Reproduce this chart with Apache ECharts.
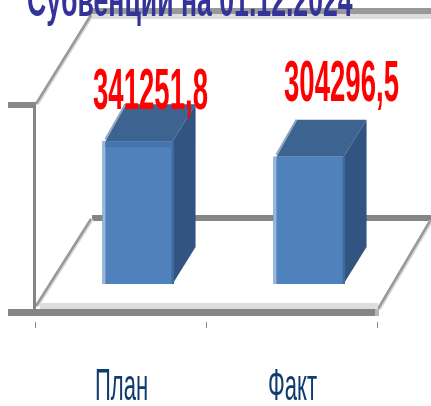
<!DOCTYPE html>
<html><head><meta charset="utf-8">
<style>html,body{margin:0;padding:0;background:#fff;overflow:hidden}#c{width:431px;height:406px}</style>
<script src="https://cdn.jsdelivr.net/npm/echarts@6/dist/echarts.min.js"></script>
</head><body><div id="c"></div>
<script>
const titleText = 'Субвенции на 01.12.2024';
const categories = ['План', 'Факт'];
const values = [341251.8, 304296.5];
const valueLabels = ['341251,8', '304296,5'];

const labelShift = [[13, -50], [33, -73]];
const FONT = '"Liberation Sans", Arial, sans-serif';
const DX = 23, DY = 37;

const chart = echarts.init(document.getElementById('c'), null, {renderer: 'canvas'});

function line(x1, y1, x2, y2, stroke, w) {
  return {type: 'line', shape: {x1, y1, x2, y2}, style: {stroke, lineWidth: w}, silent: true};
}
function band(x, y, width, height, fill) {
  return {type: 'rect', shape: {x, y, width, height}, style: {fill}, silent: true};
}
function poly(points, fill) {
  return {type: 'polygon', shape: {points}, style: {fill}, silent: true};
}

function renderWalls() {
  return {type: 'group', children: [
    band(90, 8, 341, 6, '#999999'),
    band(90, 14, 341, 5, '#dddddd'),
    band(92, 215, 339, 6, '#858585'),
    line(37, 104, 92, 15, '#d8d8d8', 4),
    line(36, 104, 91, 15, '#999999', 2.5),
    line(37, 306, 92, 219, '#d8d8d8', 4),
    line(36, 306, 91, 219, '#999999', 2.5),
    line(379, 309, 431, 221, '#d8d8d8', 4),
    line(378, 309, 430, 221, '#999999', 2.5),
    band(8, 102, 28, 6, '#888888'),
    band(33, 105, 3, 205, '#858585'),
    band(40, 303, 338, 6, '#dddddd'),
    band(8, 309, 368, 7, '#858585'),
    band(375, 309, 4, 7, '#b5b5b5')
  ]};
}

function renderBar(params, api) {
  const i = api.value(0);
  const top = api.coord([i, api.value(1)]);
  const base = api.coord([i, 0]);
  const w = api.size([1, 0])[0] * 0.41;
  const cx = top[0] + 17;
  const l = cx - w / 2, r = cx + w / 2, t = top[1], b = base[1];
  const shift = labelShift[i];
  return {type: 'group', children: [
    poly([[l + 3, t], [l + DX, t - DY], [r + DX, t - DY], [r, t]], '#3d6391'),
    poly([[r, t], [r + DX, t - DY], [r + DX, b - DY], [r, b]], '#325480'),
    line(l + 3, t - 2, l + DX, t - DY, '#8ea6c4', 2),
    band(l, t, w, b - t, '#4f81bd'),
    band(l, t, 3, b - t, '#9ab6d8'),
    band(r - 1, t, 2.5, b - t, '#3f6a9e'),
    i === 0 ? band(l + 3, t, w - 4, 6, '#4674ac') : band(l, t, 0, 0, '#4674ac'),
    {type: 'text', x: cx + shift[0], y: t + shift[1] + 1.5, scaleX: 0.475, z2: 20, silent: true,
      style: {text: valueLabels[i], font: 'bold 58px ' + FONT, fill: '#ff0000', align: 'center', verticalAlign: 'middle'}},
    {type: 'text', x: top[0] + 1, y: 388, scaleX: 0.49, z2: 20, silent: true,
      style: {text: categories[i], font: '45px ' + FONT, fill: '#0f3b6f', align: 'center', verticalAlign: 'middle'}}
  ]};
}

chart.setOption({
  animation: false,
  backgroundColor: '#ffffff',
  grid: {left: 35, width: 342, top: 77, height: 207, containLabel: false},
  graphic: [{type: 'text', x: 27, y: -21.5, z: 50, scaleX: 0.555, silent: true,
    style: {text: titleText, font: 'bold 48px ' + FONT, fill: '#333399', align: 'left', verticalAlign: 'top'}}],
  xAxis: {type: 'category', data: categories, offset: 38,
    axisLine: {show: false, onZero: false},
    axisTick: {show: true, length: 6, lineStyle: {color: '#888888', width: 1}},
    axisLabel: {show: false}},
  yAxis: {type: 'value', min: 0, max: 495000, show: false},
  series: [
    {type: 'custom', z: 1, silent: true, clip: false, data: [[0, 0]], encode: {x: 0, y: 1}, renderItem: renderWalls},
    {type: 'custom', z: 2, silent: true, clip: false, encode: {x: 0, y: 1},
      data: values.map((v, i) => [i, v]), renderItem: renderBar}
  ]
});
</script></body></html>
